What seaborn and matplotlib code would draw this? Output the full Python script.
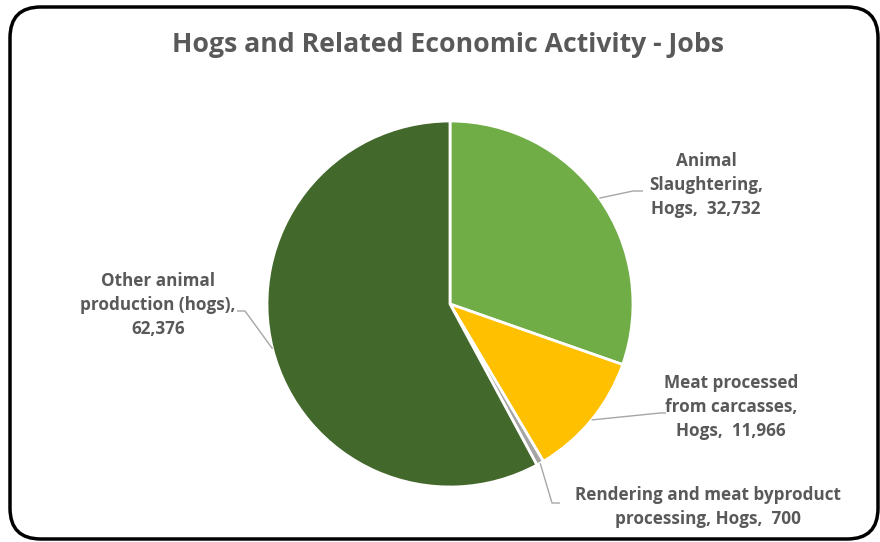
import numpy as np
import matplotlib
matplotlib.use("Agg")
import matplotlib.pyplot as plt
from matplotlib.patches import FancyBboxPatch
import seaborn as sns

# Jobs by activity
categories = ["Animal\nSlaughtering,\nHogs,  32,732",
              "Meat processed\nfrom carcasses,\nHogs,  11,966",
              "Rendering and meat byproduct\nprocessing, Hogs,  700",
              "Other animal\nproduction (hogs),\n62,376"]
jobs = [32732, 11966, 700, 62376]
colors = ["#70AD47", "#FFC000", "#A5A5A5", "#43682B"]
title = "Hogs and Related Economic Activity - Jobs"

sns.set_theme(style="white")
plt.rcParams["font.family"] = ["Open Sans", "DejaVu Sans"]

W, H = 880, 542
fig = plt.figure(figsize=(W / 100, H / 100), dpi=100)
ax = fig.add_axes([0, 0, 1, 1])
ax.set_axis_off()

# pie centre and radius in pixels
CX, CY, R = 450, 304, 183


def px(x, y):
    return ((x - CX) / R, (CY - y) / R)


wedges, _ = ax.pie(jobs, colors=colors, startangle=90, counterclock=False,
                   radius=1.0, wedgeprops=dict(edgecolor="white", linewidth=2))
ax.set_xlim(-CX / R, (W - CX) / R)
ax.set_ylim((CY - H) / R, CY / R)
ax.set_aspect("equal", adjustable="box")

# label centres and leader elbows (pixel layout)
label_pos = [(706, 185), (731, 407), (708, 507), (158, 305)]
elbows = [[(633, 191), (643, 191)],
          [(660, 413), (666, 413)],
          [(552, 503), (560, 503)],
          [(245, 311), (237, 311)]]

text_col = "#595959"
for w, lab, pos, elb in zip(wedges, categories, label_pos, elbows):
    mid = np.deg2rad((w.theta1 + w.theta2) / 2)
    start = (np.cos(mid), np.sin(mid))
    pts = [start] + [px(*p) for p in elb]
    xs, ys = zip(*pts)
    ax.plot(xs, ys, color="#A6A6A6", lw=1.0, solid_capstyle="butt")
    tx, ty = px(*pos)
    ax.text(tx, ty, lab, ha="center", va="center", fontsize=12.3,
            fontweight="bold", color=text_col, linespacing=1.4)

fig.text(448 / W, 1 - 45 / H, title, ha="center", va="center",
         fontsize=19.2, fontweight="bold", color=text_col)

# rounded chart frame
frame = FancyBboxPatch((10 / W, 3 / H), 868 / W, 532 / H,
                       boxstyle="round,pad=0,rounding_size=0.035",
                       transform=fig.transFigure, fill=False,
                       edgecolor="black", linewidth=2.5,
                       mutation_aspect=W / H)
fig.patches.append(frame)

fig.savefig("out.png", dpi=100)
